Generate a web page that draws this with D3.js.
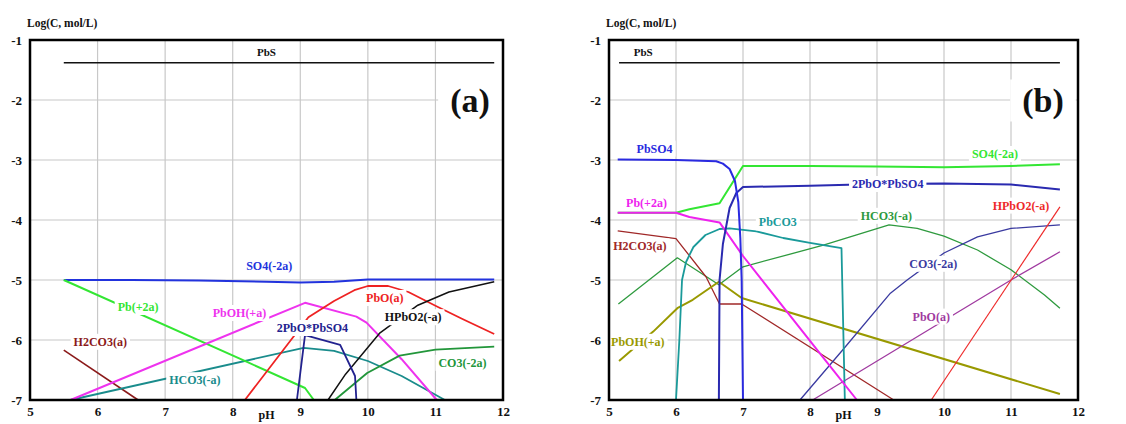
<!DOCTYPE html>
<html>
<head>
<meta charset="utf-8">
<script src="https://cdn.jsdelivr.net/npm/d3@7"></script>
<style>
  body { margin: 0; background: #fff; }
  svg { display: block; }
  text { font-family: "Liberation Serif", "Times New Roman", serif; font-weight: bold; }
</style>
</head>
<body>
<script>
const pHTicks = [5, 6, 7, 8, 9, 10, 11, 12];
const logTicks = [-1, -2, -3, -4, -5, -6, -7];

// panel (a) - [pH, log C]
const aPbS = [[5.5, -1.38], [11.87, -1.38]];
const aSO4 = [[5.5, -5.0], [6.5, -5.0], [7.5, -5.01], [8.5, -5.03], [9.0, -5.04], [9.5, -5.03], [10.0, -4.99], [11.0, -4.99], [11.87, -4.99]];
const aPb2 = [[5.5, -5.0], [8.22, -6.37], [9.07, -6.8], [9.2, -7.0]];
const aPbOH = [[5.6, -7.0], [9.07, -5.38], [9.83, -5.61], [9.98, -5.71], [10.5, -6.32], [11.02, -7.0]];
const aPbO = [[8.18, -7.0], [9.12, -5.62], [9.5, -5.35], [9.8, -5.17], [10.0, -5.1], [10.3, -5.1], [10.6, -5.2], [11.0, -5.43], [11.4, -5.65], [11.87, -5.9]];
const aHPbO2 = [[9.41, -7.0], [9.67, -6.57], [10.18, -5.88], [10.74, -5.42], [11.2, -5.2], [11.87, -5.03]];
const a2PbO = [[8.95, -7.0], [9.07, -5.92], [9.59, -6.08], [9.81, -6.6], [9.83, -7.0]];
const aH2CO3 = [[5.5, -6.17], [6.6, -7.0]];
const aHCO3 = [[5.6, -7.0], [9.05, -6.13], [9.5, -6.18], [10.0, -6.35], [10.5, -6.6], [11.14, -7.0]];
const aCO3 = [[9.51, -7.0], [9.99, -6.55], [10.47, -6.26], [11.0, -6.16], [11.87, -6.11]];

// panel (b)
const bPbS = [[5.15, -1.38], [11.73, -1.38]];
const bPbSO4 = [[5.13, -2.99], [6.0, -3.0], [6.6, -3.02], [6.7, -3.06], [6.8, -3.15], [6.88, -3.35], [6.93, -3.7], [6.96, -4.3], [6.98, -5.0], [7.0, -7.0]];
const bSO4 = [[5.13, -3.88], [6.0, -3.88], [6.2, -3.82], [6.65, -3.72], [7.0, -3.1], [8.0, -3.1], [9.0, -3.11], [10.0, -3.12], [11.0, -3.1], [11.73, -3.07]];
const bPb2 = [[5.13, -3.88], [6.0, -3.88], [6.2, -3.95], [6.65, -4.04], [7.0, -4.6], [8.18, -6.27], [8.7, -7.0]];
const b2PbO = [[6.64, -7.0], [6.65, -5.0], [6.7, -4.4], [6.8, -3.8], [6.9, -3.55], [7.0, -3.45], [8.0, -3.43], [9.0, -3.4], [10.0, -3.39], [11.0, -3.41], [11.73, -3.49]];
const bPbCO3 = [[6.0, -7.0], [6.05, -6.0], [6.09, -5.0], [6.15, -4.7], [6.26, -4.45], [6.44, -4.25], [6.65, -4.15], [6.8, -4.14], [7.2, -4.19], [7.6, -4.3], [8.0, -4.38], [8.47, -4.47], [8.52, -7.0]];
const bH2CO3 = [[5.13, -4.18], [6.0, -4.31], [6.45, -4.95], [6.65, -5.4], [6.98, -5.4], [9.25, -7.0]];
const bHCO3 = [[5.14, -5.4], [6.02, -4.63], [6.64, -5.08], [7.0, -4.78], [8.2, -4.42], [9.18, -4.08], [9.6, -4.14], [10.0, -4.27], [10.5, -4.5], [11.0, -4.83], [11.5, -5.25], [11.73, -5.47]];
const bPbOH = [[5.15, -6.35], [5.66, -5.86], [6.02, -5.47], [6.25, -5.33], [6.64, -5.03], [6.98, -5.3], [11.73, -6.9]];
const bCO3 = [[7.85, -7.0], [8.5, -6.15], [9.2, -5.22], [9.45, -5.0], [10.0, -4.55], [10.5, -4.28], [11.0, -4.14], [11.73, -4.08]];
const bPbO = [[8.04, -7.0], [11.0, -5.0], [11.73, -4.53]];
const bHPbO2 = [[9.81, -7.0], [11.73, -3.78]];

const panels = [
  {
    tag: '(a)', left: 30, right: 503, tagPos: [470, 100], pbsLabel: [8.5, -1.2],
    series: [
      {name: 'PbS', pts: aPbS, color: '#111', w: 1.5},
      {name: 'SO4(-2a)', pts: aSO4, color: '#2233dd', w: 2, lab: [8.54, -4.77]},
      {name: 'H2CO3(a)', pts: aH2CO3, color: '#8b1a1a', w: 1.6, lab: [6.04, -6.03]},
      {name: 'HCO3(-a)', pts: aHCO3, color: '#1a8c8c', w: 1.8, lab: [7.44, -6.67]},
      {name: 'Pb(+2a)', pts: aPb2, color: '#33e633', w: 2, lab: [6.6, -5.45]},
      {name: 'PbOH(+a)', pts: aPbOH, color: '#ee33ee', w: 2, lab: [8.1, -5.55]},
      {name: 'PbO(a)', pts: aPbO, color: '#ee2222', w: 1.8, lab: [10.25, -5.3]},
      {name: 'HPbO2(-a)', pts: aHPbO2, color: '#111', w: 1.5, lab: [10.67, -5.62]},
      {name: 'CO3(-2a)', pts: aCO3, color: '#22963a', w: 1.8, lab: [11.4, -6.38]},
      {name: '2PbO*PbSO4', pts: a2PbO, color: '#22228f', w: 1.8, lab: [9.18, -5.8]}
    ]
  },
  {
    tag: '(b)', left: 609, right: 1078, tagPos: [1043, 100], pbsLabel: [5.51, -1.2],
    series: [
      {name: 'PbS', pts: bPbS, color: '#111', w: 1.5},
      {name: 'HCO3(-a)', pts: bHCO3, color: '#2e9a3e', w: 1.3, lab: [9.14, -3.93]},
      {name: 'H2CO3(a)', pts: bH2CO3, color: '#a02828', w: 1.3, lab: [5.46, -4.44]},
      {name: 'PbOH(+a)', pts: bPbOH, color: '#999900', w: 2, lab: [5.43, -6.03]},
      {name: 'CO3(-2a)', pts: bCO3, color: '#3a3aa0', w: 1.3, lab: [9.84, -4.73]},
      {name: 'PbO(a)', pts: bPbO, color: '#a03aa0', w: 1.3, lab: [9.81, -5.61]},
      {name: 'HPbO2(-a)', pts: bHPbO2, color: '#ee2a2a', w: 1.2, lab: [11.15, -3.76]},
      {name: 'PbCO3', pts: bPbCO3, color: '#1a9a9a', w: 1.8, lab: [7.52, -4.04]},
      {name: 'SO4(-2a)', pts: bSO4, color: '#33e633', w: 2, lab: [10.76, -2.9]},
      {name: 'Pb(+2a)', pts: bPb2, color: '#ee22ee', w: 2, lab: [5.56, -3.71]},
      {name: '2PbO*PbSO4', pts: b2PbO, color: '#2a2ab0', w: 2, lab: [9.16, -3.4]},
      {name: 'PbSO4', pts: bPbSO4, color: '#2a2ae0', w: 2, lab: [5.68, -2.81]}
    ]
  }
];

const TOP = 40, BOTTOM = 400;

const svg = d3.select('body').append('svg')
  .attr('width', 1126)
  .attr('height', 424);

function addLabel(g, x, y, text, color, size, padX, padY) {
  const t = g.append('text')
    .attr('x', x).attr('y', y)
    .attr('text-anchor', 'middle')
    .attr('dominant-baseline', 'central')
    .attr('font-size', size)
    .attr('fill', color)
    .text(text);
  const b = t.node().getBBox();
  g.insert('rect', () => t.node())
    .attr('x', b.x - padX).attr('y', b.y - padY)
    .attr('width', b.width + 2 * padX).attr('height', b.height + 2 * padY)
    .attr('fill', '#fff');
  return t;
}

for (const p of panels) {
  const x = d3.scaleLinear().domain([5, 12]).range([p.left, p.right]);
  const y = d3.scaleLinear().domain([-1, -7]).range([TOP, BOTTOM]);
  const g = svg.append('g');

  // grid
  g.append('g').selectAll('line')
    .data(pHTicks.slice(1, -1))
    .join('line')
    .attr('x1', d => x(d)).attr('x2', d => x(d))
    .attr('y1', TOP).attr('y2', BOTTOM)
    .attr('stroke', '#c8c8c8').attr('stroke-width', 1.2);
  g.append('g').selectAll('line')
    .data(logTicks.slice(1, -1))
    .join('line')
    .attr('x1', p.left).attr('x2', p.right)
    .attr('y1', d => y(d)).attr('y2', d => y(d))
    .attr('stroke', '#c8c8c8').attr('stroke-width', 1.2);

  // curves
  const line = d3.line().x(d => x(d[0])).y(d => y(d[1]));
  g.append('g').attr('fill', 'none')
    .selectAll('path')
    .data(p.series)
    .join('path')
    .attr('d', d => line(d.pts))
    .attr('stroke', d => d.color)
    .attr('stroke-width', d => d.w)
    .attr('stroke-linejoin', 'round');

  // labels on white boxes
  const lg = g.append('g');
  for (const s of p.series) {
    if (!s.lab) continue;
    addLabel(lg, x(s.lab[0]), y(s.lab[1]), s.name, s.color, 12, 3, 1);
  }
  addLabel(lg, x(p.pbsLabel[0]), y(p.pbsLabel[1]), 'PbS', '#111', 11, 2, 1);
  addLabel(lg, p.tagPos[0], p.tagPos[1], p.tag, '#111', 34, 12, 2);

  // frame
  g.append('rect')
    .attr('x', p.left).attr('y', TOP)
    .attr('width', p.right - p.left).attr('height', BOTTOM - TOP)
    .attr('fill', 'none').attr('stroke', '#000').attr('stroke-width', 2.5);

  // axes
  const ay = g.append('g')
    .attr('transform', `translate(${p.left},0)`)
    .call(d3.axisLeft(y).tickValues(logTicks).tickSize(0).tickPadding(8).tickFormat(d => String(d)));
  const ax = g.append('g')
    .attr('transform', `translate(0,${BOTTOM})`)
    .call(d3.axisBottom(x).tickValues(pHTicks).tickSize(0).tickPadding(7).tickFormat(d => String(d)));
  for (const a of [ax, ay]) {
    a.select('.domain').remove();
    a.attr('font-family', null).attr('font-size', null);
    a.selectAll('text').attr('font-size', 13).attr('fill', '#111');
  }

  g.append('text')
    .attr('x', p.left - 3).attr('y', 27)
    .attr('font-size', 11.5)
    .attr('fill', '#111')
    .text('Log(C, mol/L)');
  g.append('text')
    .attr('x', x(8.5)).attr('y', 419)
    .attr('text-anchor', 'middle')
    .attr('font-size', 12)
    .attr('fill', '#111')
    .text('pH');
}
</script>
</body>
</html>
